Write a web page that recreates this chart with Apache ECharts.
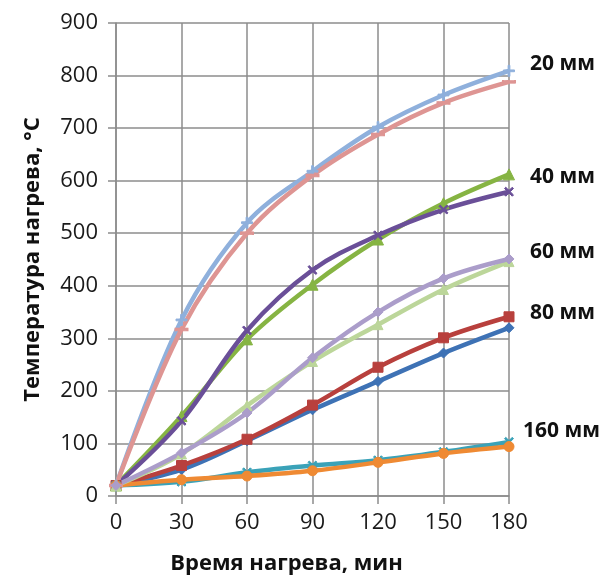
<!DOCTYPE html>
<html>
<head>
<meta charset="utf-8">
<script src="https://cdn.jsdelivr.net/npm/echarts@6/dist/echarts.min.js"></script>
<style>
  html, body { margin: 0; padding: 0; background: #fff; }
  #chart { width: 601px; height: 581px; }
</style>
</head>
<body>
<div id="chart"></div>
<script>
// время нагрева, мин
const minutes = [0, 30, 60, 90, 120, 150, 180]
const yTicks = [0, 100, 200, 300, 400, 500, 600, 700, 800, 900]

// температура, °C (по две кривые на толщину)
const t80a = [20, 50, 105, 164, 218, 272, 320]
const t80b = [20, 58, 108, 173, 245, 301, 341]
const t40a = [20, 152, 298, 402, 488, 557, 612]
const t40b = [20, 143, 315, 430, 496, 545, 579]
const t160a = [20, 27, 45, 58, 68, 84, 103]
const t160b = [20, 31, 38, 48, 64, 81, 94]
const t20a = [20, 335, 520, 618, 702, 763, 809]
const t20b = [20, 317, 500, 610, 688, 748, 788]
const t60a = [20, 80, 172, 256, 326, 393, 446]
const t60b = [20, 82, 158, 263, 350, 414, 451]

const thicknessLabels = ['20 мм', '40 мм', '60 мм', '80 мм', '160 мм']

const FONT = '"Open Sans", "DejaVu Sans", sans-serif'
const GRID = '#8c8c8c'

const X_MARK = 'path://M0,1.4L1.4,0L5,3.6L8.6,0L10,1.4L6.4,5L10,8.6L8.6,10L5,6.4L1.4,10L0,8.6L3.6,5Z'
const PLUS_MARK = 'path://M4.2,0H5.8V4.2H10V5.8H5.8V10H4.2V5.8H0V4.2H4.2Z'

function line (name, values, color, symbol, size) {
  return {
    name: name,
    type: 'line',
    smooth: 0.35,
    data: values.map((v, i) => [minutes[i], v]),
    symbol: symbol,
    symbolSize: size,
    showSymbol: true,
    lineStyle: { color: color, width: 4.5 },
    itemStyle: { color: color, borderColor: color, borderWidth: 1 },
    emphasis: { disabled: true },
    animation: false
  }
}

function label (i, x, y) {
  return {
    type: 'text', x: x, y: y,
    style: { text: thicknessLabels[i], font: 'bold 21px ' + FONT, fill: '#111', verticalAlign: 'middle' }
  }
}

const chart = echarts.init(document.getElementById('chart'))
chart.setOption({
  backgroundColor: '#fff',
  grid: { left: 116, right: 92, top: 23, bottom: 85 },
  xAxis: {
    type: 'value',
    min: 0,
    max: 180,
    interval: 30,
    name: 'Время нагрева, мин',
    nameLocation: 'middle',
    nameGap: 57,
    nameTextStyle: {
      fontFamily: FONT, fontSize: 22, fontWeight: 'bold', color: '#111',
      padding: [0, 52, 0, 0]
    },
    axisLine: { lineStyle: { color: GRID, width: 1.5 } },
    axisTick: { show: true, length: 8, inside: false, lineStyle: { color: GRID, width: 1.5 } },
    splitLine: { show: true, lineStyle: { color: GRID, width: 1.5 } },
    axisLabel: { fontFamily: FONT, fontSize: 22, color: '#1a1a1a', margin: 16 }
  },
  yAxis: {
    type: 'value',
    min: 0,
    max: 900,
    interval: 100,
    name: 'Температура нагрева, °C',
    nameLocation: 'middle',
    nameGap: 72,
    nameTextStyle: { fontFamily: FONT, fontSize: 22, fontWeight: 'bold', color: '#111' },
    axisLine: { show: true, lineStyle: { color: GRID, width: 1.5 } },
    axisTick: { show: true, length: 8, inside: false, lineStyle: { color: GRID, width: 1.5 } },
    splitLine: { show: true, lineStyle: { color: GRID, width: 1.5 } },
    axisLabel: {
      fontFamily: FONT, fontSize: 22, color: '#1a1a1a', margin: 18,
      formatter: v => (yTicks.indexOf(v) >= 0 ? String(v) : '')
    }
  },
  graphic: [
    label(0, 530, 64),
    label(1, 530, 177),
    label(2, 530, 252),
    label(3, 530, 313),
    label(4, 523, 431)
  ],
  series: [
    line('80 мм (1)', t80a, '#3e72b5', 'diamond', 10),
    line('80 мм (2)', t80b, '#b8403d', 'rect', 10),
    line('40 мм (1)', t40a, '#86b443', 'triangle', 11),
    line('40 мм (2)', t40b, '#6a4f98', X_MARK, 9),
    line('160 мм (1)', t160a, '#3aa2b8', X_MARK, 9),
    line('160 мм (2)', t160b, '#ef8a33', 'circle', 10),
    line('20 мм (1)', t20a, '#8fb0dc', PLUS_MARK, 11),
    line('20 мм (2)', t20b, '#de9593', 'rect', [12, 3]),
    line('60 мм (1)', t60a, '#bcd69a', 'triangle', 10),
    line('60 мм (2)', t60b, '#ab9dca', 'diamond', 10)
  ]
})
</script>
</body>
</html>
